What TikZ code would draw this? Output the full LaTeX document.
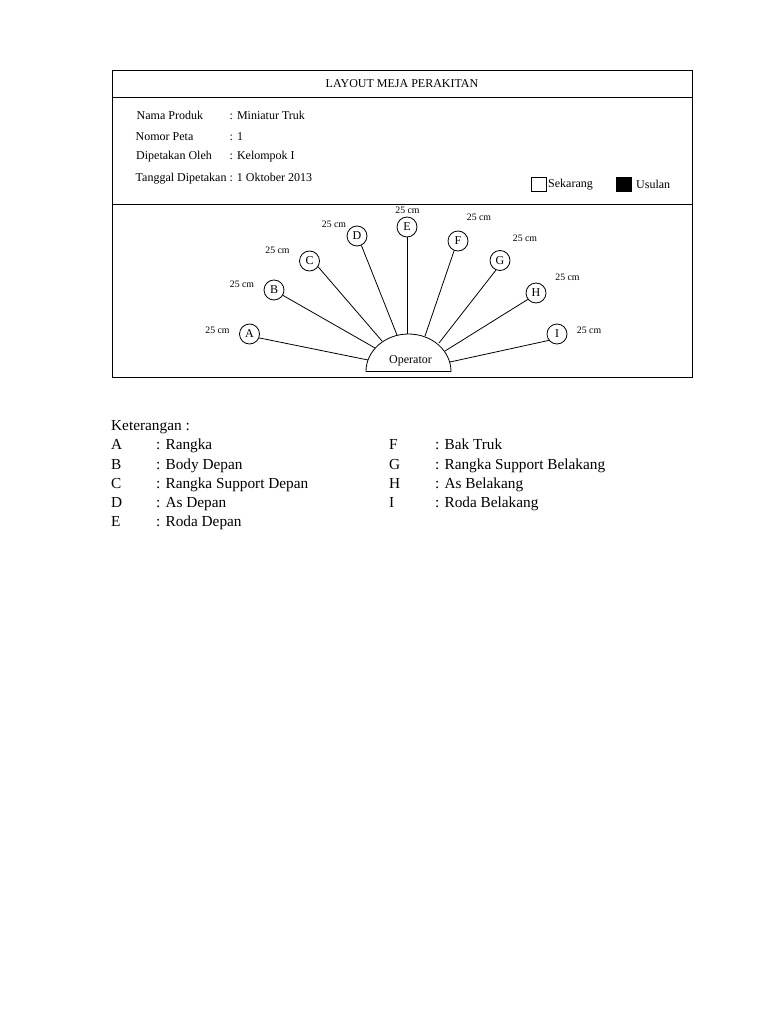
\documentclass[tikz,border=0pt]{standalone}
\usepackage{fontspec}
\setmainfont{Liberation Serif}
\tikzset{
  stasiun/.style={circle, draw, thick, minimum size=20pt, inner sep=0pt, font=\fontsize{12}{12}\selectfont},
  isi/.style={anchor=base west, inner sep=0pt, font=\fontsize{12}{12}\selectfont},
  jarak/.style={anchor=base, inner sep=0pt, font=\fontsize{9.8}{10}\selectfont},
  ket/.style={anchor=base west, inner sep=0pt, font=\fontsize{15.3}{16}\selectfont},
}
\begin{document}
\begin{tikzpicture}[x=1pt, y=-1pt]
\useasboundingbox (0,0) rectangle (768,1024);
\draw [thick] (112,70.5) rectangle (692,377.5);
\draw [thick] (112,97.5)--(692,97.5);
\draw [thick] (112,204.5)--(692,204.5);

\node [isi, anchor=base] (judul) at (402,88) {LAYOUT MEJA PERAKITAN};
\node [isi] (nama) at (136.5,119.5) {Nama Produk};
\node [isi] (namaisi) at (229.5,119.5) {: Miniatur Truk};
\node [isi] (nomor) at (135.5,141) {Nomor Peta};
\node [isi] (nomorisi) at (229.5,141) {: 1};
\node [isi] (oleh) at (136,159.5) {Dipetakan Oleh};
\node [isi] (oleh2) at (229.5,159.5) {: Kelompok I};
\node [isi] (tanggal) at (135.5,181.5) {Tanggal Dipetakan : 1 Oktober 2013};

\node [draw, thick, minimum width=15pt, minimum height=14pt, inner sep=0pt] (sekarang) at (538.5,184) {};
\node [isi] (sekarangteks) at (548,187.5) {Sekarang};
\node [draw, thick, fill=black, minimum width=15pt, minimum height=14pt, inner sep=0pt] (usulan) at (623.5,184) {};
\node [isi] (usulanteks) at (636,188.5) {Usulan};

\draw [thick] (366,371.5) arc [start angle=180, end angle=360, x radius=42.5, y radius=37.5]--cycle;
\node [inner sep=0pt, font=\fontsize{12}{12}\selectfont] (operator) at (410.5,360.5) {Operator};

\coordinate (opA) at (368,360);
\coordinate (opB) at (375,348);
\coordinate (opC) at (382,341);
\coordinate (opD) at (397,335);
\coordinate (opE) at (407,334);
\coordinate (opF) at (425,336);
\coordinate (opG) at (439,343);
\coordinate (opH) at (445,351);
\coordinate (opI) at (450,362);

\node [stasiun] (A) at (249.5,334) {A};
\node [stasiun] (B) at (274,290) {B};
\node [stasiun] (C) at (309.5,261) {C};
\node [stasiun] (D) at (357,236) {D};
\node [stasiun] (E) at (407,227) {E};
\node [stasiun] (F) at (458,241) {F};
\node [stasiun] (G) at (500,260.5) {G};
\node [stasiun] (H) at (536,293) {H};
\node [stasiun] (I) at (557,334) {I};

\draw [thick] (A.-22)--(opA);
\draw [thick] (B.-31)--(opB);
\draw [thick] (C.-34)--(opC);
\draw [thick] (D.-65)--(opD);
\draw [thick] (E.-90)--(opE);
\draw [thick] (F.-112)--(opF);
\draw [thick] (G.-113)--(opG);
\draw [thick] (H.-142)--(opH);
\draw [thick] (I.-142)--(opI);

\node [jarak] (jarakA) at (217.5,333) {25 cm};
\node [jarak] (jarakB) at (242,287) {25 cm};
\node [jarak] (jarakC) at (277.5,253) {25 cm};
\node [jarak] (jarakD) at (334,228) {25 cm};
\node [jarak] (jarakE) at (407.5,214) {25 cm};
\node [jarak] (jarakF) at (479,221) {25 cm};
\node [jarak] (jarakG) at (525,241) {25 cm};
\node [jarak] (jarakH) at (567.5,280) {25 cm};
\node [jarak] (jarakI) at (589,333) {25 cm};

\node [ket] (keterangan) at (111,430) {Keterangan :};
\node [ket] (a) at (111,449) {A};
\node [ket] (aisi) at (156,449) {: Rangka};
\node [ket] (b) at (111,469) {B};
\node [ket] (bisi) at (156,469) {: Body Depan};
\node [ket] (c) at (111,488) {C};
\node [ket] (cisi) at (156,488) {: Rangka Support Depan};
\node [ket] (d) at (111,507) {D};
\node [ket] (disi) at (156,507) {: As Depan};
\node [ket] (e) at (111,526) {E};
\node [ket] (eisi) at (156,526) {: Roda Depan};
\node [ket] (f) at (389,449) {F};
\node [ket] (fisi) at (435,449) {: Bak Truk};
\node [ket] (g) at (389,469) {G};
\node [ket] (gisi) at (435,469) {: Rangka Support Belakang};
\node [ket] (h) at (389,488) {H};
\node [ket] (hisi) at (435,488) {: As Belakang};
\node [ket] (i) at (389,507) {I};
\node [ket] (iisi) at (435,507) {: Roda Belakang};
\end{tikzpicture}
\end{document}
